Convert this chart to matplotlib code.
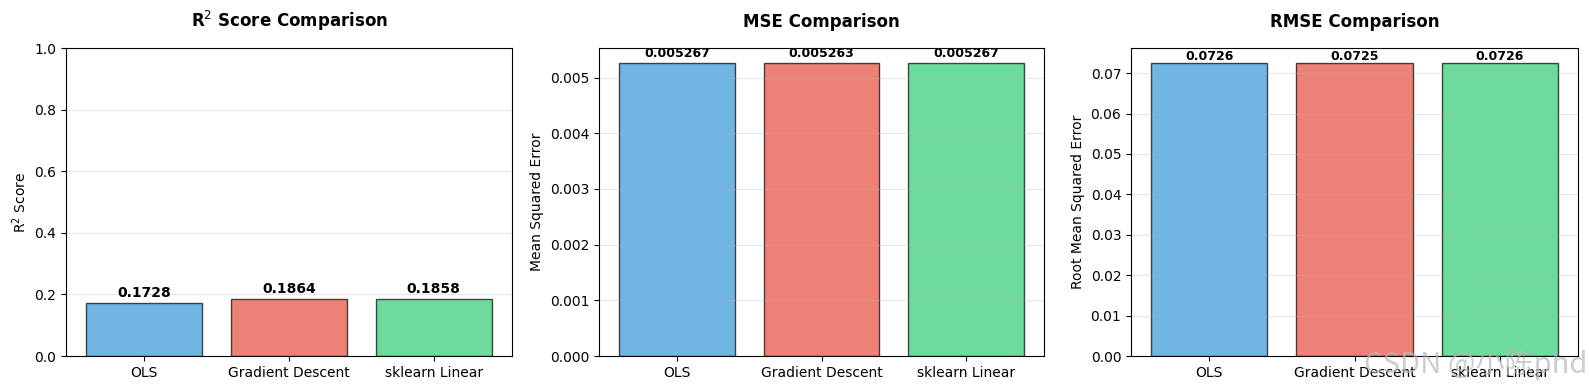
import matplotlib.pyplot as plt
import numpy as np

models = ['OLS', 'Gradient Descent', 'sklearn Linear']
r2_scores = [0.1728, 0.1864, 0.1858]
mse_scores = [0.005267, 0.005263, 0.005267]
rmse_scores = [0.0726, 0.0725, 0.0726]
colors = ['#3498db', '#e74c3c', '#2ecc71']

fig = plt.figure(figsize=(15.89, 3.9), dpi=100)
W, H = 1589.0, 390.0
# axes boxes in pixels (left, right)
boxes = [(66, 512), (599, 1044), (1131, 1578)]
axes = [fig.add_axes([l/W, (H-356)/H, (r-l)/W, 308/H]) for l, r in boxes]

# R2
ax = axes[0]
bars = ax.bar(models, r2_scores, color=colors, alpha=0.7, edgecolor='black')
ax.set_ylabel('R$^2$ Score')
ax.set_title('R$^2$ Score Comparison', fontsize=12, fontweight='bold', pad=15)
ax.set_ylim(0, 1)
ax.grid(axis='y', alpha=0.3)
for bar, v in zip(bars, r2_scores):
    ax.text(bar.get_x() + bar.get_width()/2, bar.get_height() + 0.01, f'{v:.4f}',
            ha='center', va='bottom', fontweight='bold')

# MSE
ax = axes[1]
bars = ax.bar(models, mse_scores, color=colors, alpha=0.7, edgecolor='black')
ax.set_ylabel('Mean Squared Error')
ax.set_title('MSE Comparison', fontsize=12, fontweight='bold', pad=15)
ax.grid(axis='y', alpha=0.3)
for bar, v in zip(bars, mse_scores):
    ax.text(bar.get_x() + bar.get_width()/2, bar.get_height() + 0.00005, f'{v:.6f}',
            ha='center', va='bottom', fontweight='bold', fontsize=9)

# RMSE
ax = axes[2]
bars = ax.bar(models, rmse_scores, color=colors, alpha=0.7, edgecolor='black')
ax.set_ylabel('Root Mean Squared Error')
ax.set_title('RMSE Comparison', fontsize=12, fontweight='bold', pad=15)
ax.grid(axis='y', alpha=0.3)
for bar, v in zip(bars, rmse_scores):
    ax.text(bar.get_x() + bar.get_width()/2, bar.get_height(), f'{v:.4f}',
            ha='center', va='bottom', fontweight='bold', fontsize=9)

# site watermark, bottom right
fig.text(0.999, 0.025, 'CSDN @小陈phd', ha='right', va='bottom', fontsize=21,
         color='#b8b8b8', alpha=0.7, family=['Noto Sans CJK SC', 'DejaVu Sans'])

plt.savefig('out.png', dpi=100)
